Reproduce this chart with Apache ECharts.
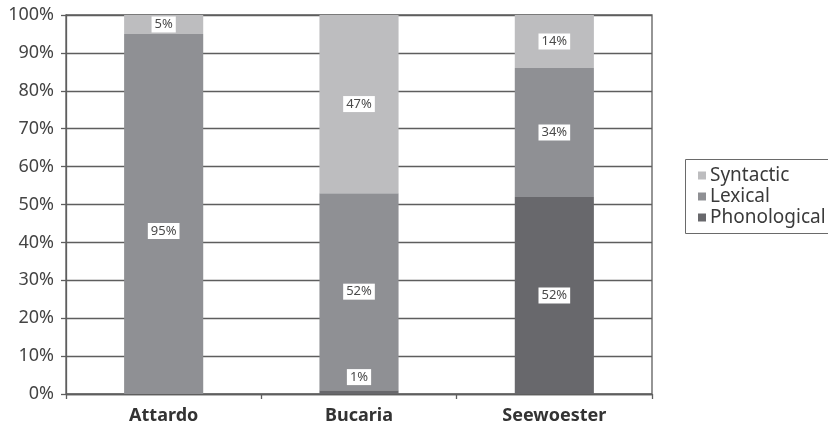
<!DOCTYPE html>
<html>
<head>
<meta charset="utf-8">
<script src="https://cdn.jsdelivr.net/npm/echarts@6/dist/echarts.min.js"></script>
<style>
  html, body { margin: 0; padding: 0; background: #fff; }
  #chart { width: 828px; height: 428px; }
</style>
</head>
<body>
<div id="chart"></div>
<script>
// Share of error types per speaker (percent)
const categories = ['Attardo', 'Bucaria', 'Seewoester'];
const phonological = [null, 1, 52];
const lexical = [95, 52, 34];
const syntactic = [5, 47, 14];
const yTicks = [0, 10, 20, 30, 40, 50, 60, 70, 80, 90, 100];

const FONT = '"Noto Sans", "Open Sans", sans-serif';
const GRID_COLOR = '#5e5e5e';

const labelBase = {
  show: true,
  position: 'inside',
  formatter: p => p.value + '%',
  color: '#4a4a4a',
  fontFamily: FONT,
  fontSize: 13,
  backgroundColor: '#ffffff',
  padding: [2, 3, 1, 3]
};

function toItems(values, overrides) {
  return values.map((v, i) => {
    if (v === null) return null;
    const o = overrides && overrides[i];
    return o ? { value: v, label: o } : v;
  });
}

const chart = echarts.init(document.getElementById('chart'), null, { renderer: 'canvas' });

chart.setOption({
  animation: false,
  backgroundColor: '#ffffff',
  grid: {
    left: 66, right: 176, top: 15, bottom: 34,
    show: true, borderColor: GRID_COLOR, borderWidth: 1.3
  },
  // legend frame runs on past the right edge of the canvas
  graphic: [{
    type: 'rect',
    shape: { x: 685.5, y: 159.5, width: 200, height: 74 },
    style: { fill: 'none', stroke: '#6a6a6a', lineWidth: 1 },
    z: 0
  }],
  legend: {
    orient: 'vertical',
    left: 685, top: 159,
    data: ['Syntactic', 'Lexical', 'Phonological'],
    icon: 'rect',
    itemWidth: 8, itemHeight: 8, itemGap: 2,
    padding: [7, 0, 7, 13],
    textStyle: { fontFamily: FONT, fontSize: 19, color: '#3a3a3a', padding: [0, 0, 0, -1] }
  },
  xAxis: {
    type: 'category',
    data: categories,
    axisLine: { lineStyle: { color: GRID_COLOR, width: 1.3 } },
    axisTick: { show: true, length: 5, lineStyle: { color: GRID_COLOR, width: 1.3 } },
    axisLabel: { margin: 13, fontFamily: FONT, fontSize: 18, fontWeight: 'bold', color: '#333' }
  },
  yAxis: {
    type: 'value',
    min: yTicks[0], max: yTicks[yTicks.length - 1], interval: 10,
    axisLine: { show: true, lineStyle: { color: GRID_COLOR, width: 1.3 } },
    axisTick: { show: true, length: 5, lineStyle: { color: GRID_COLOR, width: 1.3 } },
    splitLine: { lineStyle: { color: GRID_COLOR, width: 1.3 } },
    axisLabel: { margin: 12, formatter: '{value}%', fontFamily: FONT, fontSize: 18, color: '#444' }
  },
  series: [
    {
      name: 'Phonological', type: 'bar', stack: 'all', barWidth: '40.5%',
      itemStyle: { color: '#68686c' },
      label: labelBase,
      data: toItems(phonological, { 1: Object.assign({}, labelBase, { offset: [0, -15] }) })
    },
    {
      name: 'Lexical', type: 'bar', stack: 'all',
      itemStyle: { color: '#8f9094' },
      label: labelBase,
      data: toItems(lexical, { 0: Object.assign({}, labelBase, { offset: [0, 17] }) })
    },
    {
      name: 'Syntactic', type: 'bar', stack: 'all',
      itemStyle: { color: '#bdbdbf' },
      label: labelBase,
      data: toItems(syntactic)
    }
  ]
});
</script>
</body>
</html>
